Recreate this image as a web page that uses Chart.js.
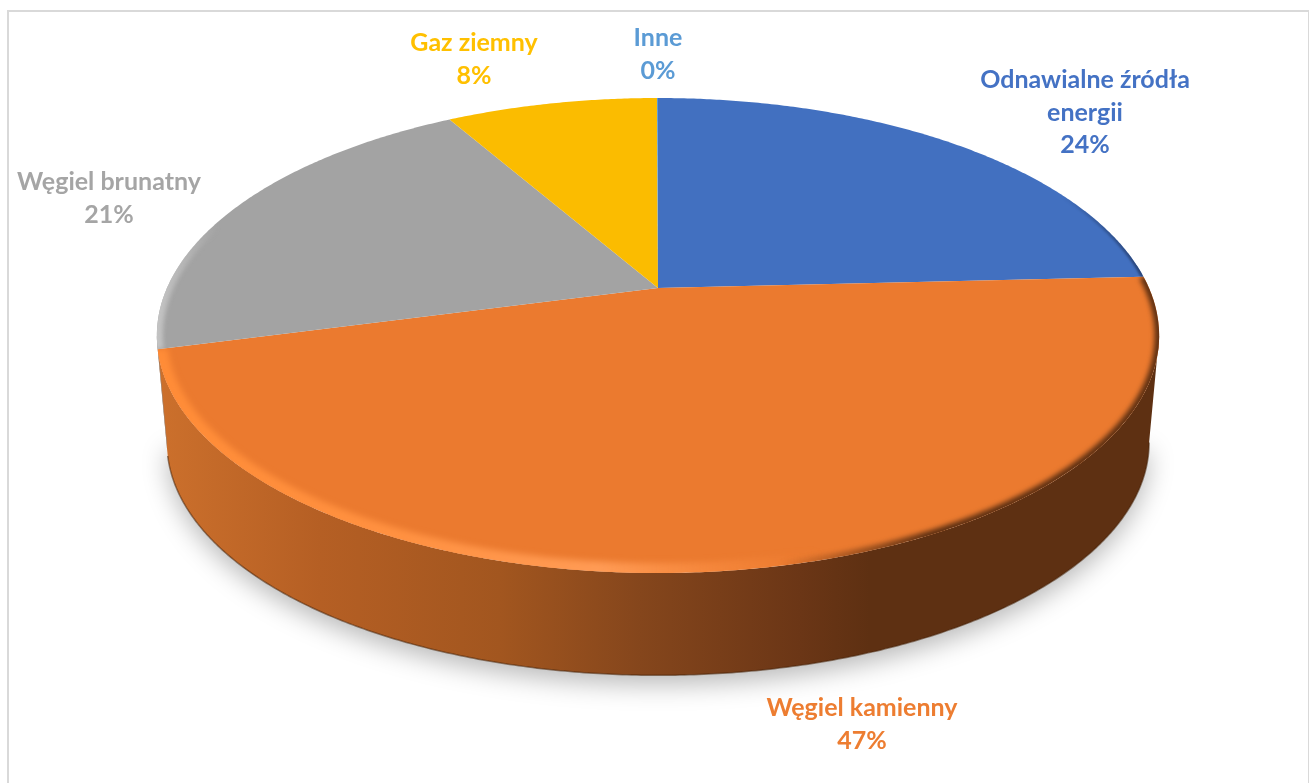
<!DOCTYPE html>
<html lang="pl">
<head>
  <meta charset="UTF-8" />
  <title>Struktura produkcji energii</title>
  <script src="https://cdn.jsdelivr.net/npm/chart.js"></script>
  <style>
    html, body { margin: 0; height: 100%; overflow: hidden; background: #fff; }
    #frame {
      position: absolute; left: 7px; top: 10px; width: 1299px; height: 800px;
      border: 2px solid #d9d9d9;
    }
    canvas { position: absolute; left: 0; top: 0; }
  </style>
</head>
<body>
  <div id="frame"></div>
  <canvas id="pie" width="1309" height="783"></canvas>

  <script>
    const categories = [['Odnawialne źródła', 'energii'], 'Węgiel kamienny', 'Węgiel brunatny', 'Gaz ziemny', 'Inne'];
    const shares = [24.2, 46.7, 20.8, 8.26, 0.04];
    const colors = ['#4270c0', '#eb7a2f', '#a3a3a3', '#fbbc00', '#5b9bd5'];
    const labelColors = ['#4472c4', '#ed7d31', '#a5a5a5', '#ffc000', '#5b9bd5'];

    // label centre x, first line centre y
    const labelX = [1085, 862, 109, 474, 658];
    const labelY = [80, 708, 182, 43, 38];

    // perspective of the disc, fitted to the picture
    const CX = 658, CY = 288, RX = 491, RY = 228, TILT = 0.2;
    const BOTTOM_SCALE = 0.98, BOTTOM_DY = 108;
    const FRONT_FROM = Math.PI - Math.acos(TILT), FRONT_TO = Math.PI + Math.acos(TILT);

    function topPoint(a) {
      const w = 1 + TILT * Math.cos(a);
      return [CX + RX * Math.sin(a) / w, CY - RY * Math.cos(a) / w];
    }
    function bottomPoint(a) {
      const p = topPoint(a);
      return [CX + (p[0] - CX) * BOTTOM_SCALE, CY + (p[1] - CY) * BOTTOM_SCALE + BOTTOM_DY];
    }
    function traceArc(ctx, from, to, pointAt, start) {
      const steps = Math.max(2, Math.ceil(Math.abs(to - from) / 0.008));
      for (let i = 0; i <= steps; i++) {
        const p = pointAt(from + (to - from) * i / steps);
        if (i === 0 && start) ctx.moveTo(p[0], p[1]); else ctx.lineTo(p[0], p[1]);
      }
    }
    function sideGradient(ctx, stops) {
      const g = ctx.createLinearGradient(158, 0, 1160, 0);
      stops.forEach(s => g.addColorStop((s[0] - 158) / 1002, s[1]));
      return g;
    }
    function rimStroke(ctx, from, to, stops, width, blur) {
      ctx.save();
      ctx.beginPath();
      ctx.moveTo(CX, CY);
      traceArc(ctx, from, to, topPoint, false);
      ctx.closePath();
      ctx.clip();
      ctx.filter = 'blur(' + blur + 'px)';
      ctx.beginPath();
      traceArc(ctx, from, to, topPoint, true);
      ctx.strokeStyle = sideGradient(ctx, stops);
      ctx.lineWidth = width;
      ctx.stroke();
      ctx.restore();
    }

    const pie3d = {
      id: 'pie3d',
      beforeDatasetsDraw(chart) {
        const ctx = chart.ctx;
        // the library lays out the slices, angles are counted from the top here
        const arcs = chart.getDatasetMeta(0).data.map(el => ({
          from: el.startAngle + Math.PI / 2,
          to: el.endAngle + Math.PI / 2
        }));

        // soft shadow under the disc
        ctx.save();
        ctx.shadowColor = 'rgba(0,0,0,0.28)';
        ctx.shadowBlur = 26;
        ctx.shadowOffsetY = 9;
        ctx.fillStyle = '#fff';
        ctx.beginPath();
        traceArc(ctx, FRONT_FROM, FRONT_TO, bottomPoint, true);
        ctx.closePath();
        ctx.fill();
        ctx.restore();

        // side wall, only the front part of each slice
        arcs.forEach((arc, i) => {
          const from = Math.max(arc.from, FRONT_FROM), to = Math.min(arc.to, FRONT_TO);
          if (to <= from) return;
          ctx.beginPath();
          traceArc(ctx, from, to, topPoint, true);
          traceArc(ctx, to, from, bottomPoint, false);
          ctx.closePath();
          ctx.fillStyle = i === 1
            ? sideGradient(ctx, [[158, '#cc702c'], [320, '#b55f24'], [500, '#a2561f'], [640, '#85461c'], [800, '#6b3616'], [870, '#5e3012'], [1160, '#5e3012']])
            : '#8a8a8a';
          ctx.fill();
          if (i === 1) {
            ctx.beginPath();
            traceArc(ctx, from, to, bottomPoint, true);
            ctx.strokeStyle = 'rgba(70,35,10,0.55)';
            ctx.lineWidth = 1.5;
            ctx.stroke();
          }
        });

        // top face
        arcs.forEach((arc, i) => {
          ctx.beginPath();
          ctx.moveTo(CX, CY);
          traceArc(ctx, arc.from, arc.to, topPoint, false);
          ctx.closePath();
          ctx.fillStyle = colors[i];
          ctx.fill();
        });

        // bevel along the rim
        rimStroke(ctx, arcs[1].from, arcs[1].to,
          [[158, 'rgba(255,140,55,1)'], [400, 'rgba(255,145,65,1)'], [600, 'rgba(255,155,85,1)'], [820, 'rgba(255,140,60,0)'], [1160, 'rgba(255,140,60,0)']], 20, 3);
        rimStroke(ctx, arcs[1].from, arcs[1].to,
          [[158, 'rgba(94,48,18,0)'], [780, 'rgba(94,48,18,0)'], [930, 'rgba(94,48,18,1)'], [1160, 'rgba(94,48,18,1)']], 9, 2.5);
        rimStroke(ctx, arcs[0].from, arcs[0].to,
          [[158, 'rgba(30,50,90,0)'], [1060, 'rgba(30,50,90,0)'], [1140, 'rgba(30,50,90,0.7)'], [1160, 'rgba(30,50,90,0.7)']], 5, 1);
        rimStroke(ctx, arcs[2].from, arcs[2].to,
          [[158, 'rgba(195,195,195,1)'], [220, 'rgba(195,195,195,0)'], [1160, 'rgba(195,195,195,0)']], 12, 2);

        // labels
        ctx.font = '700 25px Lato, "Open Sans", sans-serif';
        ctx.textAlign = 'center';
        ctx.textBaseline = 'middle';
        categories.forEach((name, i) => {
          const lines = [].concat(name, Math.round(shares[i]) + '%');
          ctx.fillStyle = labelColors[i];
          lines.forEach((line, n) => ctx.fillText(line, labelX[i], labelY[i] + n * 32.7));
        });
        return false;
      }
    };

    new Chart(document.getElementById('pie'), {
      type: 'pie',
      data: {
        labels: categories,
        datasets: [{ data: shares, backgroundColor: colors, borderWidth: 0 }]
      },
      options: {
        responsive: false,
        animation: false,
        events: [],
        plugins: { legend: { display: false }, tooltip: { enabled: false } }
      },
      plugins: [pie3d]
    });
  </script>
</body>
</html>
